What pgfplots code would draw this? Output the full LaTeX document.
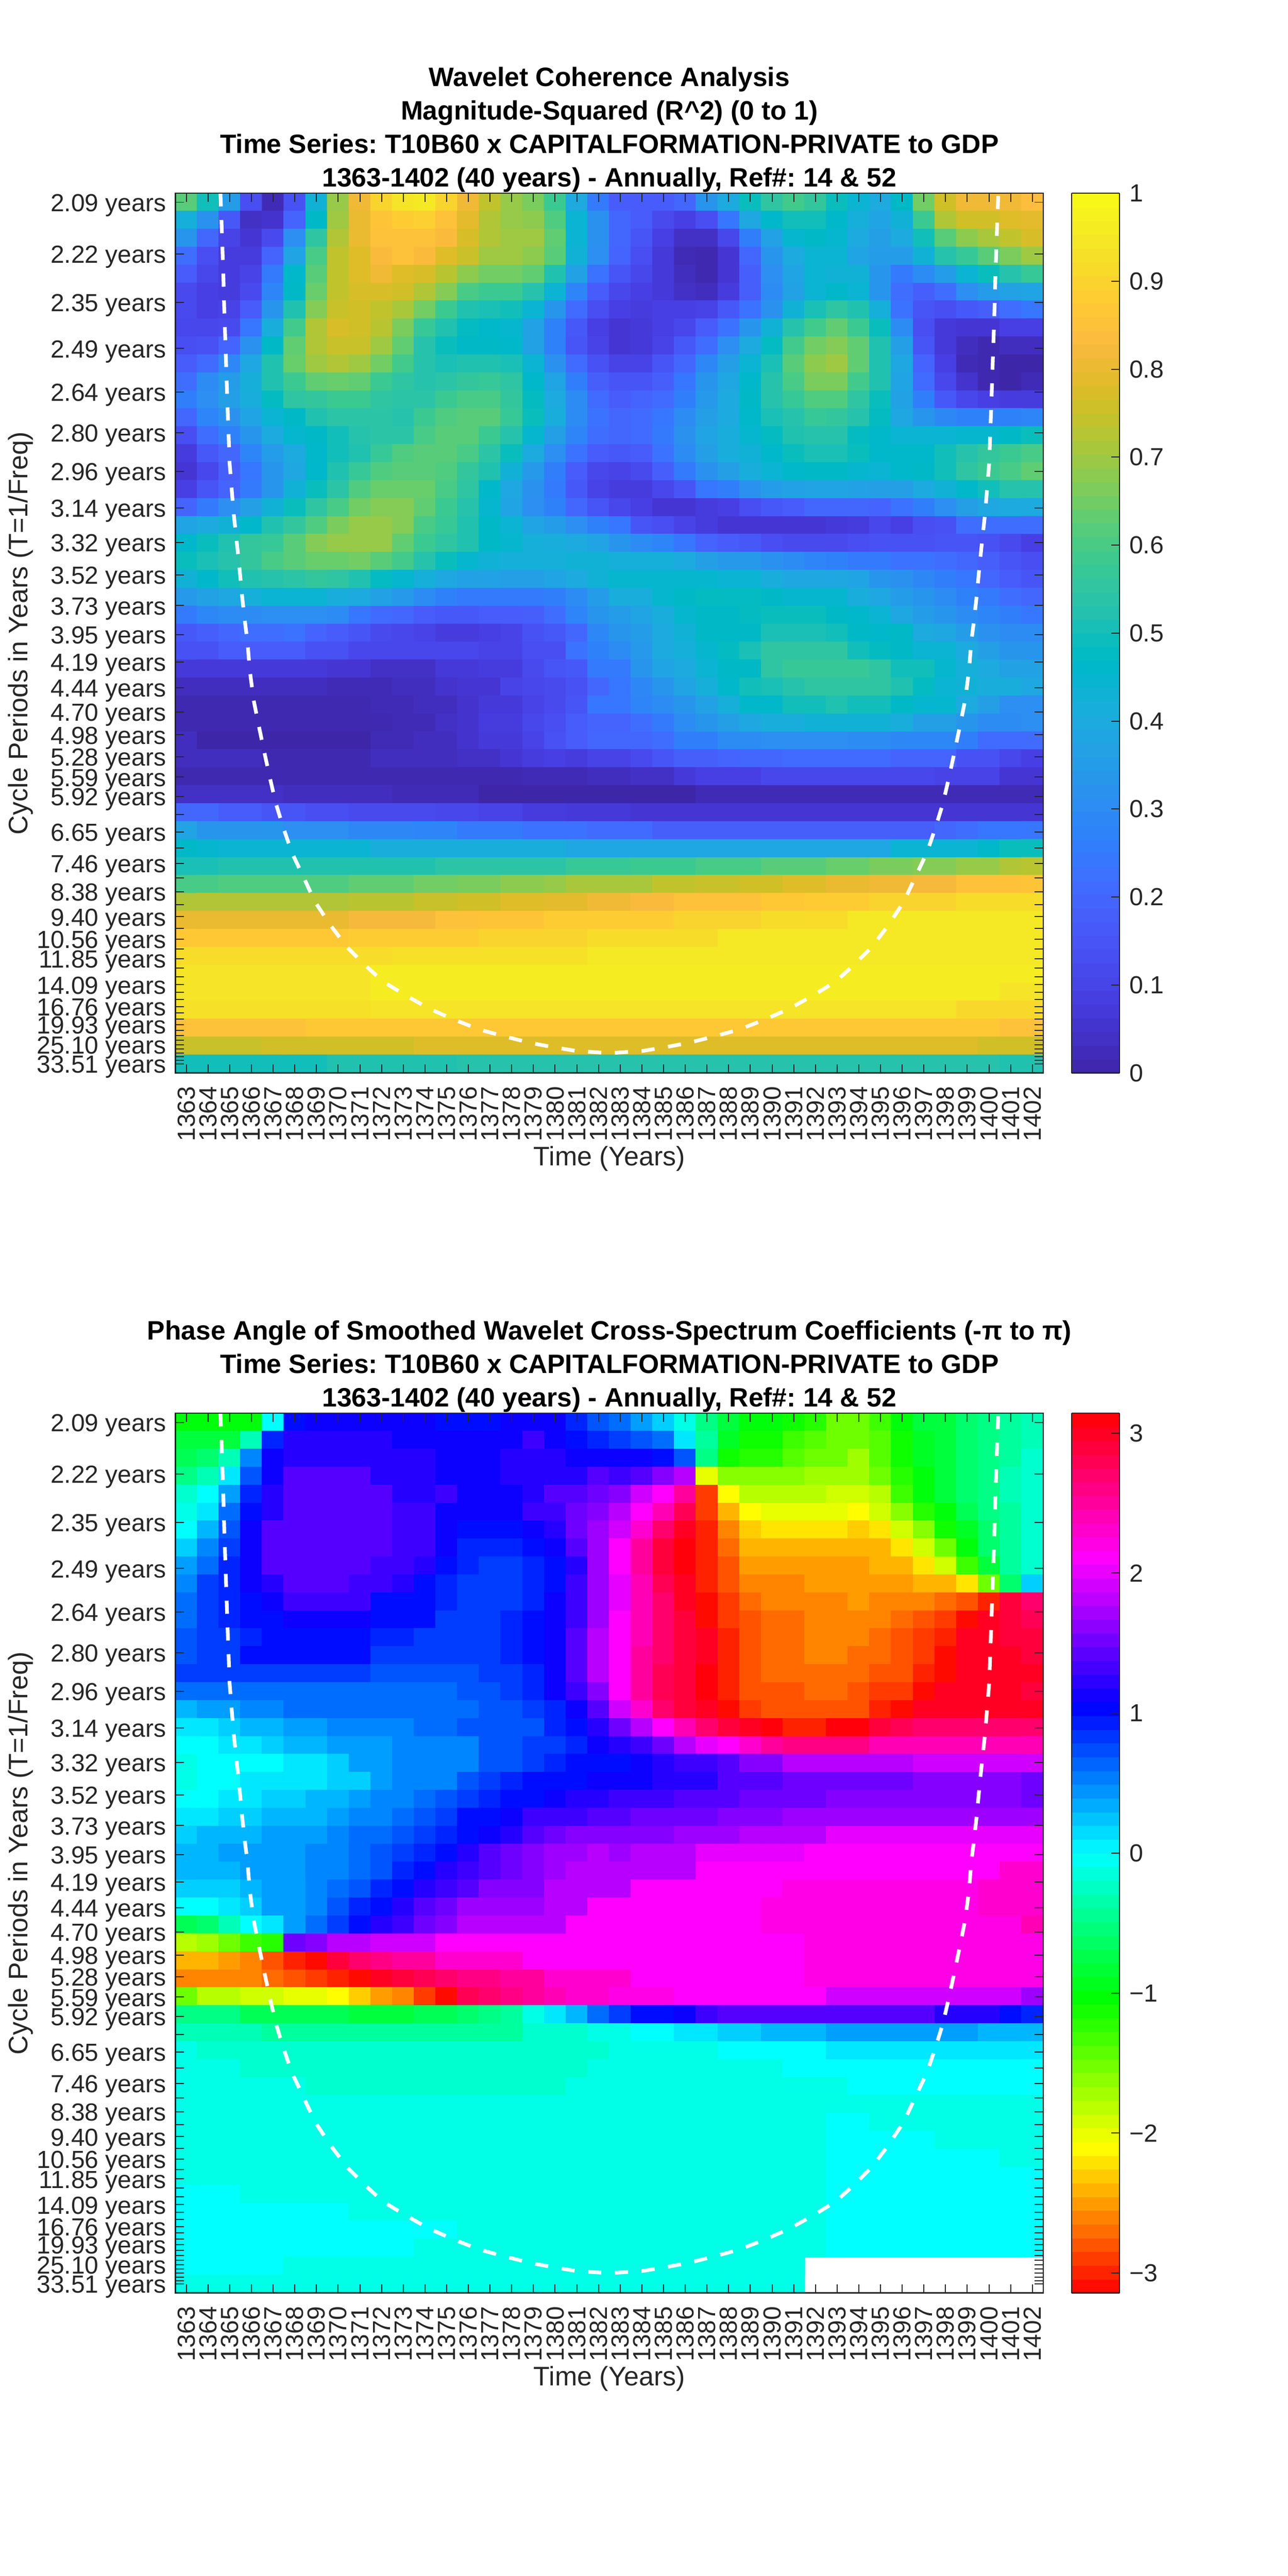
\documentclass[border=0pt]{standalone}
\usepackage{fontspec}
\setmainfont{Liberation Sans}
\usepackage{pgfplots}
\usepackage{pgfplotstable}
\pgfplotsset{compat=1.18}

\pgfplotsset{
  colormap={parula}{
    rgb=(.2422,.1504,.6603) rgb=(.2504,.1650,.7076) rgb=(.2578,.1818,.7511) rgb=(.2647,.1978,.7952)
    rgb=(.2706,.2147,.8364) rgb=(.2751,.2342,.8710) rgb=(.2783,.2559,.8991) rgb=(.2803,.2782,.9221)
    rgb=(.2813,.3006,.9414) rgb=(.2810,.3228,.9579) rgb=(.2795,.3447,.9717) rgb=(.2760,.3667,.9829)
    rgb=(.2699,.3892,.9906) rgb=(.2602,.4123,.9952) rgb=(.2440,.4358,.9988) rgb=(.2206,.4603,.9973)
    rgb=(.1963,.4847,.9892) rgb=(.1834,.5074,.9798) rgb=(.1786,.5289,.9682) rgb=(.1764,.5499,.9520)
    rgb=(.1687,.5703,.9359) rgb=(.1540,.5902,.9218) rgb=(.1460,.6091,.9079) rgb=(.1380,.6276,.8973)
    rgb=(.1248,.6459,.8883) rgb=(.1113,.6635,.8763) rgb=(.0952,.6798,.8598) rgb=(.0689,.6948,.8394)
    rgb=(.0297,.7082,.8163) rgb=(.0036,.7203,.7917) rgb=(.0067,.7312,.7660) rgb=(.0433,.7411,.7394)
    rgb=(.0964,.7500,.7120) rgb=(.1408,.7584,.6842) rgb=(.1717,.7670,.6554) rgb=(.1938,.7758,.6251)
    rgb=(.2161,.7843,.5923) rgb=(.2470,.7918,.5567) rgb=(.2906,.7973,.5188) rgb=(.3406,.8008,.4789)
    rgb=(.3909,.8029,.4354) rgb=(.4456,.8024,.3909) rgb=(.5044,.7993,.3480) rgb=(.5616,.7942,.3045)
    rgb=(.6174,.7876,.2612) rgb=(.6720,.7793,.2227) rgb=(.7242,.7698,.1910) rgb=(.7738,.7598,.1646)
    rgb=(.8203,.7498,.1535) rgb=(.8634,.7406,.1596) rgb=(.9035,.7330,.1774) rgb=(.9393,.7288,.2100)
    rgb=(.9728,.7298,.2394) rgb=(.9956,.7434,.2371) rgb=(.9970,.7659,.2199) rgb=(.9952,.7861,.1999)
    rgb=(.9892,.8136,.1885) rgb=(.9786,.8386,.1766) rgb=(.9676,.8639,.1643) rgb=(.9610,.8890,.1537)
    rgb=(.9597,.9135,.1423) rgb=(.9628,.9373,.1265) rgb=(.9691,.9606,.1064) rgb=(.9769,.9839,.0805)
  },
  colormap={hsvwrap}{
    rgb255=(255,0,0) rgb255=(255,255,0) rgb255=(0,255,0) rgb255=(0,255,255)
    rgb255=(0,0,255) rgb255=(255,0,255) rgb255=(255,0,0)
  },
  wavelet/.style={
    scale only axis, width=421.2pt, height=427pt,
    anchor=south west,
    xmin=1362.5, xmax=1402.5, ymin=0.5, ymax=49.5,
    y dir=reverse, axis on top,
    tick align=inside, xtick pos=both, ytick pos=both,
    major tick length=4.2pt,
    tick style={black!85, line width=.5pt},
    axis line style={black!85, line width=.6pt},
    xtick={1363,1364,...,1402},
    ytick={1,3.874,6.586,9.146,11.563,13.843,15.996,18.028,19.946,21.757,23.465,25.078,26.6,28.037,29.393,30.673,31.881,33.022,34.098,35.114,36.073,36.978,37.833,38.639,39.4,40.118,40.797,41.437,42.041,42.611,43.149,43.657,44.137,44.589,45.016,45.42,45.8,46.159,46.498,46.82,47.121,47.406,47.675,47.928,48.168,48.394,48.608,48.81,49},
    yticklabels={2.09 years,2.22 years,2.35 years,2.49 years,2.64 years,2.80 years,2.96 years,3.14 years,3.32 years,3.52 years,3.73 years,3.95 years,4.19 years,4.44 years,4.70 years,4.98 years,5.28 years,5.59 years,5.92 years,,6.65 years,,7.46 years,,8.38 years,,9.40 years,,10.56 years,,11.85 years,,,14.09 years,,,16.76 years,,,19.93 years,,,,25.10 years,,,,,33.51 years},
    /pgf/number format/assume math mode=true,
    /pgf/number format/1000 sep={},
    tick label style={font=\fontsize{12}{14}\selectfont, color=black!85},
    yticklabel style={anchor=east, inner sep=0pt, xshift=-4.4pt, yshift=-1.5pt},
    xticklabel style={rotate=90, anchor=east, inner sep=0pt, xshift=-6.4pt},
    xlabel={Time (Years)},
    ylabel={Cycle Periods in Years (T=1/Freq)},
    label style={font=\fontsize{13}{15}\selectfont, color=black!85},
    xlabel style={at={(axis description cs:0.5,0)}, anchor=north, yshift=-32pt},
    ylabel style={at={(axis description cs:-0.1557,0.5)}, anchor=south},
    title style={at={(axis description cs:0.5,1)}, anchor=south, yshift=-9pt, align=center,
      font=\fontsize{12.9}{16.2}\selectfont\bfseries\frenchspacing},
    colorbar sampled,
  },
  wavebar/.style={
    at={(1.03276,1)}, anchor=north west, width=23.2pt, height=427pt,
    xmin=0, xmax=1, samples=65,
    ytick pos=right, yticklabel pos=right,
    tick align=inside, major tick length=4pt,
    tick style={black!85, line width=.5pt},
    axis line style={black!85, line width=.6pt},
    /pgf/number format/assume math mode=true,
    yticklabel style={font=\fontsize{12}{14}\selectfont, color=black!85, anchor=west, inner sep=0pt, xshift=4.6pt},
  },
  coi/.style={white, line width=1.8pt, dash pattern=on 6.4pt off 6.6pt},
}

% Magnitude-squared coherence x100, row by row from the top, 40 years per row
\pgfplotstableread{
c
62
50
35
13
2
14
43
69
81
90
94
95
90
81
74
69
66
58
40
25
17
17
17
20
33
40
49
55
59
56
49
44
40
47
65
76
81
81
81
84
42
32
16
4
5
19
47
70
80
86
88
89
85
79
72
69
68
61
44
32
20
17
12
9
13
24
39
46
50
50
46
42
38
43
58
72
76
76
78
79
33
20
10
6
12
31
55
72
80
85
85
85
83
77
72
70
70
63
44
32
20
15
9
4
4
11
26
37
45
47
45
40
36
40
50
62
68
71
74
77
22
13
8
8
19
38
60
74
78
83
85
83
78
75
70
70
68
62
43
31
19
13
7
2
1
6
20
33
40
44
44
38
35
35
43
53
57
62
66
70
17
11
8
10
25
46
62
74
78
81
78
77
73
68
65
65
63
52
37
23
15
11
7
3
1
6
18
31
38
44
43
43
33
25
30
35
44
49
53
57
12
9
8
12
28
47
64
74
77
77
76
72
67
60
58
58
53
44
28
17
11
9
7
4
3
8
18
30
37
44
46
44
33
22
18
22
31
35
37
38
12
9
10
17
33
52
67
75
76
74
71
65
58
52
51
50
44
33
21
13
9
8
9
9
10
16
23
32
43
51
55
52
42
23
15
13
16
18
22
24
11
11
12
24
41
59
72
77
76
73
66
57
52
48
46
45
37
27
16
9
6
7
9
11
17
23
33
43
53
59
63
58
49
30
13
7
6
6
9
9
13
14
19
32
47
63
72
75
75
70
63
53
49
47
47
46
37
27
15
10
6
7
10
16
22
31
40
48
59
65
67
63
52
36
15
7
3
1
3
3
17
21
29
39
52
64
70
72
70
65
59
53
51
52
52
51
44
32
21
14
10
10
15
20
29
36
44
51
62
68
70
63
52
39
19
9
2
1
0
0
22
30
35
42
52
58
63
64
63
58
55
53
54
56
57
55
46
38
26
18
15
15
18
24
33
39
46
53
60
66
66
59
52
38
21
11
5
1
0
2
26
31
36
41
48
55
56
58
58
55
54
54
58
60
60
56
48
40
30
21
17
19
21
26
34
40
47
53
57
61
61
55
49
37
26
16
11
9
8
8
20
28
32
38
44
47
52
54
54
54
53
58
61
62
62
57
49
41
30
23
20
21
24
30
36
40
46
51
53
57
56
53
48
39
33
29
27
27
27
28
13
22
27
33
40
45
47
50
53
54
54
60
62
62
58
53
45
36
28
22
20
21
25
32
38
41
45
48
52
53
53
48
46
44
44
44
45
45
47
49
8
16
20
28
35
40
46
50
52
57
61
62
62
60
54
49
40
31
23
17
16
17
23
30
36
41
43
46
49
51
51
49
46
46
46
50
53
56
58
60
6
11
18
24
33
39
46
52
57
61
62
62
61
56
52
43
34
26
17
11
10
12
18
25
32
36
41
44
46
47
47
45
44
46
47
50
55
58
60
63
9
15
19
25
33
43
49
54
61
64
64
64
60
55
46
39
32
25
16
10
8
8
11
15
24
26
32
35
37
38
38
37
36
36
40
43
46
50
53
53
19
25
31
36
43
49
55
60
65
67
67
63
58
53
45
38
31
27
20
15
11
9
6
6
8
9
13
16
17
20
20
20
19
23
26
31
36
39
40
40
38
40
43
46
52
56
61
66
69
69
67
60
57
52
47
44
38
35
31
27
24
15
13
10
8
6
6
6
6
6
7
8
11
9
13
14
22
22
22
22
46
49
52
56
57
62
67
69
69
69
63
58
55
52
47
45
42
41
40
38
33
30
28
24
19
17
16
13
12
12
12
13
14
14
14
15
15
14
12
9
49
51
53
56
60
62
64
64
65
62
59
53
49
45
43
42
42
42
43
43
42
42
42
40
36
34
34
32
30
28
27
25
25
23
23
22
20
18
15
13
43
46
50
52
53
54
56
55
52
48
45
42
39
37
37
36
36
38
40
43
45
45
45
45
45
44
44
41
39
39
39
38
33
32
29
26
24
20
17
15
34
37
39
42
44
44
44
41
40
37
34
30
27
25
25
25
25
26
30
35
41
41
45
47
48
48
48
47
45
45
45
41
39
35
33
30
27
25
22
20
25
29
30
30
31
31
31
30
24
21
20
17
16
16
17
17
18
22
28
33
35
38
41
45
47
47
48
49
49
49
47
46
44
39
35
33
30
28
26
24
16
18
20
22
22
23
19
17
15
12
11
10
8
8
9
10
14
16
20
29
33
35
40
43
47
47
47
51
51
51
50
47
46
47
40
39
35
32
30
30
14
14
17
17
17
17
14
14
11
11
11
11
11
11
10
10
13
13
23
27
30
34
40
42
45
48
51
55
55
55
55
50
48
47
44
44
40
36
33
33
7
7
7
7
7
7
7
6
6
4
4
4
7
7
8
8
12
15
16
25
25
33
38
40
44
47
47
55
57
57
57
57
55
50
50
45
42
40
37
37
3
3
3
3
3
3
3
2
2
2
3
3
5
6
6
10
11
12
14
20
24
29
33
38
42
46
50
51
53
55
55
55
55
52
48
44
43
41
41
39
1
1
1
1
1
1
1
1
1
2
2
3
3
5
7
7
10
12
15
24
24
28
30
33
37
42
46
46
50
50
52
50
50
47
45
45
40
36
31
31
1
1
1
1
1
1
1
1
1
1
2
2
4
5
8
8
11
13
17
19
19
22
25
30
33
36
39
41
41
43
43
43
43
41
36
36
33
30
30
31
3
0
0
0
0
0
0
0
0
2
2
3
3
5
7
7
10
14
17
20
20
20
22
26
26
30
30
31
31
31
31
30
30
29
29
29
26
21
21
21
3
3
3
3
1
1
1
1
1
3
3
3
3
4
4
6
8
9
8
10
10
12
15
18
18
19
20
20
21
21
21
21
21
19
19
19
14
14
11
9
1
1
1
1
1
1
1
1
1
1
1
1
1
1
1
1
2
2
2
3
3
4
4
7
9
9
9
11
11
11
11
11
11
11
11
10
10
10
6
6
4
4
4
4
4
3
3
3
3
3
2
2
2
2
0
0
0
0
0
0
0
0
0
0
2
2
2
2
2
2
2
2
2
2
2
2
2
2
2
2
20
20
17
17
15
15
13
13
12
12
12
12
11
11
10
10
8
8
7
7
7
6
6
6
6
6
6
6
6
6
6
6
6
6
6
6
6
6
6
6
38
33
33
33
33
31
31
31
29
29
29
28
28
25
25
25
23
23
23
21
21
21
18
18
18
18
18
18
18
18
18
18
18
18
18
20
22
24
24
24
47
45
44
44
44
44
44
44
44
41
41
41
41
41
41
41
41
41
39
39
39
39
39
39
39
39
39
39
39
39
39
39
39
44
44
44
44
46
49
49
51
51
52
52
52
52
52
52
52
52
52
52
54
54
54
54
54
54
57
57
57
58
58
58
60
60
60
62
62
62
64
64
66
66
67
67
69
69
72
73
60
60
61
61
61
61
61
61
63
63
63
65
65
66
66
68
68
69
71
71
71
71
74
74
75
75
76
76
78
78
80
80
81
81
82
82
85
85
85
86
72
72
72
72
72
72
72
72
73
73
73
75
75
76
76
78
78
79
79
81
81
83
83
85
85
85
85
87
87
88
88
88
90
90
90
90
92
92
92
92
80
80
80
80
80
80
80
80
82
82
82
82
85
85
86
86
86
88
88
88
88
88
88
90
90
90
90
92
92
92
92
95
95
95
95
95
95
95
95
95
87
87
87
87
87
87
87
87
88
88
88
88
88
88
90
90
90
90
90
92
92
92
92
92
92
95
95
95
95
95
95
95
95
95
95
95
95
95
95
95
92
92
92
92
92
92
92
92
92
92
93
93
93
93
93
93
93
93
93
95
95
95
95
95
95
95
95
95
95
95
95
95
95
95
95
95
95
95
95
95
94
94
94
94
94
94
94
94
94
96
96
96
96
96
96
96
96
96
96
96
96
96
96
96
96
96
96
96
96
96
96
96
96
96
96
96
96
96
96
96
94
94
94
94
94
94
94
94
94
96
96
96
96
96
96
96
96
96
96
96
96
96
96
96
96
96
96
96
96
96
96
96
96
96
96
96
96
96
94
94
93
93
93
93
93
93
93
93
93
94
94
94
94
94
94
94
94
94
94
94
94
94
94
94
94
94
94
94
94
94
94
94
94
94
94
94
91
91
91
91
85
85
85
85
85
85
87
87
87
87
87
87
87
87
87
87
87
87
87
87
87
87
87
87
87
87
87
87
87
87
87
87
87
87
87
87
87
87
85
85
75
75
75
75
76
76
76
76
76
76
76
78
78
78
78
78
78
78
78
78
78
78
78
78
78
78
78
78
78
78
78
78
78
78
78
78
78
76
76
76
50
50
50
50
50
50
50
52
52
52
52
52
52
53
53
53
53
53
53
53
53
53
53
53
53
53
53
53
53
53
53
53
53
53
53
53
53
53
52
52
}\coherence

% Phase angle in tenths of a radian, same order
\pgfplotstableread{
c
-10
-10
-10
-10
0
10
11
11
11
11
11
11
10
10
10
11
11
11
9
7
6
4
2
-1
-5
-8
-10
-10
-11
-12
-15
-15
-13
-10
-8
-8
-6
-5
-4
-3
-8
-8
-8
-3
9
12
12
12
12
12
11
11
11
11
11
11
13
11
10
9
8
7
6
1
-4
-9
-11
-11
-13
-14
-15
-15
-14
-11
-9
-8
-6
-5
-4
-3
-7
-6
-3
5
11
12
12
12
12
12
12
12
11
11
11
12
12
12
11
11
11
11
10
7
-5
-11
-12
-12
-14
-15
-15
-17
-14
-11
-9
-8
-6
-5
-4
-2
-5
-3
1
7
11
14
14
14
14
12
12
12
11
11
11
12
12
12
12
14
13
14
16
18
-20
-16
-16
-16
-16
-17
-17
-17
-15
-12
-10
-8
-6
-5
-3
-2
-2
0
4
9
12
14
14
14
14
14
12
12
13
11
11
11
12
14
14
15
16
19
21
25
-29
-21
-18
-18
-18
-18
-19
-19
-18
-13
-10
-8
-6
-5
-3
-2
-1
1
6
10
12
14
14
14
14
14
13
13
11
11
11
11
13
13
15
16
18
21
24
28
-29
-24
-21
-20
-20
-20
-20
-21
-19
-16
-12
-10
-7
-5
-4
-2
0
3
7
11
14
14
14
14
14
14
13
13
11
10
10
10
11
12
15
17
19
23
27
30
-30
-26
-23
-22
-22
-22
-22
-23
-22
-19
-16
-11
-9
-6
-4
-2
2
5
8
11
14
14
14
14
14
14
13
13
11
9
9
9
10
11
14
17
21
25
29
31
-30
-27
-24
-24
-24
-24
-24
-24
-24
-22
-19
-15
-10
-6
-4
-2
4
6
9
11
14
14
14
14
14
13
13
12
10
9
8
8
9
10
12
17
21
25
29
31
-30
-28
-25
-25
-25
-25
-25
-25
-24
-24
-22
-19
-13
-8
-4
-2
5
8
9
11
12
14
14
14
13
13
12
10
9
8
8
8
9
10
13
17
20
24
28
30
-30
-28
-26
-26
-26
-25
-25
-25
-25
-25
-24
-24
-22
-15
-6
2
6
8
9
10
11
13
13
13
13
10
10
10
9
8
8
8
9
11
13
17
20
24
27
30
-31
-29
-27
-26
-26
-26
-26
-25
-26
-26
-26
-27
-28
-30
29
27
6
8
9
10
10
11
11
11
11
10
10
10
8
8
8
9
10
11
13
17
21
24
27
29
-31
-29
-28
-27
-27
-26
-26
-26
-26
-27
-28
-29
-31
30
29
28
7
8
8
9
10
10
10
10
10
9
9
8
8
8
8
9
10
11
14
18
21
24
27
29
30
-30
-28
-27
-27
-26
-26
-26
-27
-28
-29
-30
30
30
29
29
7
8
8
10
10
10
10
10
10
8
8
8
8
8
8
9
10
11
14
18
21
25
27
29
30
-30
-28
-27
-27
-26
-26
-27
-27
-28
-29
-31
30
30
30
29
8
8
8
8
8
8
8
8
8
7
7
7
7
7
8
8
9
11
14
18
21
25
28
29
31
-30
-28
-27
-27
-27
-27
-27
-28
-28
-30
-31
30
30
30
30
6
6
6
6
6
6
6
6
6
6
6
6
6
7
7
8
9
11
13
16
21
25
28
29
31
-30
-28
-28
-28
-27
-27
-28
-29
-29
-31
30
30
30
30
29
3
4
4
5
5
6
6
6
6
6
6
6
6
6
7
7
8
9
11
14
19
23
27
29
30
-31
-29
-28
-28
-28
-28
-28
-30
-31
30
30
30
30
30
30
1
1
2
3
3
4
4
5
5
5
5
6
6
7
7
7
7
9
10
12
15
18
21
24
27
29
30
31
-30
-30
31
31
29
28
27
27
27
27
27
27
0
0
1
1
2
3
3
4
4
4
5
5
5
5
7
7
8
8
9
11
12
13
15
18
20
21
23
25
26
26
26
26
24
24
24
24
24
24
24
24
-1
0
0
0
0
1
1
2
4
4
5
5
5
5
7
7
8
9
10
10
10
11
12
13
13
14
16
16
18
18
18
18
18
18
19
19
19
19
19
19
-1
0
0
1
1
1
1
2
2
4
5
5
5
7
8
9
10
10
10
11
11
11
12
12
12
14
14
14
15
15
15
15
15
15
16
16
16
16
16
15
0
0
1
1
2
2
3
3
4
5
5
6
7
8
9
10
10
11
12
12
13
13
13
14
14
14
15
15
15
15
16
16
16
16
16
16
16
16
16
15
1
1
2
2
3
3
3
4
5
5
6
7
8
10
10
11
13
13
13
14
14
15
15
15
15
16
16
16
17
17
17
17
17
17
17
17
17
17
17
17
2
3
3
3
4
4
4
5
6
6
7
8
9
10
11
12
14
15
16
16
16
16
16
17
17
17
18
18
18
18
20
20
20
20
20
20
20
20
20
20
3
3
4
4
4
4
5
5
6
7
8
9
10
12
14
15
16
17
17
18
17
18
18
18
20
20
20
20
20
21
21
21
21
21
21
21
21
21
21
21
3
3
3
4
4
4
5
5
6
7
9
10
12
13
14
15
16
17
18
18
18
18
18
18
21
21
21
21
21
21
21
21
21
21
21
21
21
21
23
23
2
2
2
3
4
4
5
6
7
9
10
12
13
14
16
16
16
18
18
18
18
21
21
21
21
21
21
21
22
22
22
22
22
22
22
22
22
23
23
23
0
0
1
2
4
4
5
7
9
10
12
14
15
17
17
17
17
18
18
21
21
21
21
21
21
21
21
22
22
22
22
22
22
22
22
22
22
23
23
23
-7
-6
-3
0
1
4
6
8
10
12
13
15
16
18
18
18
18
18
21
21
21
21
21
21
21
21
21
22
22
22
22
22
22
22
22
22
22
22
22
24
-18
-17
-15
-13
-12
15
16
18
18
19
19
19
21
21
21
21
21
21
21
21
21
21
21
21
21
21
21
21
21
22
22
22
22
22
22
22
22
22
22
22
-24
-24
-25
-26
-28
-30
-31
29
27
26
25
25
23
23
23
23
21
21
21
21
21
21
21
21
21
21
21
21
21
22
22
22
22
22
22
22
22
22
22
22
-26
-26
-26
-26
-27
-28
-29
-30
-31
30
29
28
27
26
26
25
25
23
23
23
23
21
21
21
21
21
21
21
21
22
22
22
22
22
22
22
22
22
22
22
-15
-18
-18
-19
-19
-20
-20
-21
-23
-25
-26
-29
-31
28
27
26
25
24
23
23
22
22
22
21
21
21
21
21
21
21
19
19
19
19
19
19
19
19
19
17
-5
-5
-5
-7
-7
-7
-7
-7
-8
-8
-8
-7
-7
-6
-5
-4
-1
1
3
6
8
10
10
11
13
14
14
14
14
14
14
14
14
14
14
12
12
12
10
9
-3
-3
-3
-3
-4
-4
-4
-4
-4
-4
-4
-4
-4
-4
-4
-4
-2
-2
-2
-1
-1
0
0
1
1
2
2
3
3
3
4
4
4
4
4
4
4
3
3
3
-1
-2
-2
-2
-2
-2
-2
-2
-2
-2
-2
-2
-2
-2
-2
-2
-2
-2
-2
-2
-1
-1
-1
-1
-1
0
0
0
0
0
1
1
1
1
1
1
1
1
1
1
-1
-1
-1
-2
-2
-2
-2
-2
-2
-2
-2
-2
-2
-2
-2
-2
-2
-2
-2
-1
-1
-1
-1
-1
-1
-1
-1
-1
0
0
0
0
0
0
0
0
0
0
0
0
-1
-1
-1
-1
-1
-1
-2
-2
-2
-2
-2
-2
-2
-2
-2
-2
-2
-2
-1
-1
-1
-1
-1
-1
-1
-1
-1
-1
-1
-1
-1
0
0
0
0
0
0
0
0
0
-1
-1
-1
-1
-1
-1
-1
-1
-1
-1
-1
-1
-1
-1
-1
-1
-1
-1
-1
-1
-1
-1
-1
-1
-1
-1
-1
-1
-1
-1
-1
-1
-1
-1
-1
-1
-1
-1
-1
-1
-1
-1
-1
-1
-1
-1
-1
-1
-1
-1
-1
-1
-1
-1
-1
-1
-1
-1
-1
-1
-1
-1
-1
-1
-1
-1
-1
-1
-1
-1
0
0
-1
-1
-1
-1
-1
-1
-1
-1
-1
-1
-1
-1
-1
-1
-1
-1
-1
-1
-1
-1
-1
-1
-1
-1
-1
-1
-1
-1
-1
-1
-1
-1
-1
-1
-1
-1
-1
-1
0
0
0
0
0
-1
-1
-1
-1
-1
-1
-1
-1
-1
-1
-1
-1
-1
-1
-1
-1
-1
-1
-1
-1
-1
-1
-1
-1
-1
-1
-1
-1
-1
-1
-1
-1
-1
-1
-1
0
0
0
0
0
0
0
0
-1
-1
-1
-1
-1
-1
-1
-1
-1
-1
-1
-1
-1
-1
-1
-1
-1
-1
-1
-1
-1
-1
-1
-1
-1
-1
-1
-1
-1
-1
-1
-1
0
0
0
0
0
0
0
0
0
0
0
0
0
-1
-1
-1
-1
-1
-1
-1
-1
-1
-1
-1
-1
-1
-1
-1
-1
-1
-1
-1
-1
-1
-1
-1
-1
-1
-1
-1
0
0
0
0
0
0
0
0
0
0
0
0
0
0
0
0
0
0
-1
-1
-1
-1
-1
-1
-1
-1
-1
-1
-1
-1
-1
-1
-1
-1
-1
-1
-1
-1
-1
-1
0
0
0
0
0
0
0
0
0
0
0
0
0
0
0
0
0
0
0
0
0
0
0
-1
-1
-1
-1
-1
-1
-1
-1
-1
-1
-1
-1
-1
-1
-1
-1
-1
0
0
0
0
0
0
0
0
0
0
0
0
0
0
0
0
0
0
0
0
0
-1
-1
-1
-1
-1
-1
-1
-1
-1
-1
-1
-1
-1
-1
-1
-1
-1
-1
-1
0
0
0
0
0
0
0
0
0
0
0
0
0
0
0
-1
-1
-1
-1
-1
-1
-1
-1
-1
-1
-1
-1
-1
-1
-1
-1
-1
-1
-1
-1
-1
-1
-1
-1
-1
0
0
0
0
0
0
0
0
0
0
-1
-1
-1
-1
-1
-1
-1
-1
-1
-1
-1
-1
-1
-1
-1
-1
-1
-1
-1
-1
-1
-1
-1
-1
-1
-1
-1
-1
-1
-1
}\phase

% cone of influence, same for both panels
\pgfplotstableread{
x y
1364.57 0.5
1364.62 2.1
1364.67 3.85
1364.71 5.29
1364.74 6.72
1364.78 8.16
1364.82 9.59
1364.86 11.03
1364.90 12.47
1364.95 14.06
1364.99 15.5
1365.09 17.01
1365.19 18.45
1365.32 19.88
1365.45 21.4
1365.56 22.84
1365.69 24.27
1365.82 25.52
1365.92 27.05
1366.10 28.73
1366.33 30.11
1366.58 31.56
1366.84 33.01
1367.12 34.47
1367.45 35.77
1367.86 37.22
1368.37 38.52
1368.93 39.97
1369.64 41.27
1370.41 42.5
1371.30 43.57
1372.07 44.41
1373.09 45.17
1374.23 45.94
1375.38 46.55
1376.53 47.09
1377.68 47.47
1378.83 47.82
1379.97 48.08
1381.0 48.28
1382.5 48.4
1384.0 48.28
1385.03 48.08
1386.17 47.82
1387.32 47.47
1388.47 47.09
1389.62 46.55
1390.77 45.94
1391.91 45.17
1392.93 44.41
1393.70 43.57
1394.59 42.5
1395.36 41.27
1396.07 39.97
1396.63 38.52
1397.14 37.22
1397.55 35.77
1397.88 34.47
1398.16 33.01
1398.42 31.56
1398.67 30.11
1398.90 28.73
1399.08 27.05
1399.18 25.52
1399.31 24.27
1399.44 22.84
1399.55 21.4
1399.68 19.88
1399.81 18.45
1399.91 17.01
1400.01 15.5
1400.05 14.06
1400.10 12.47
1400.14 11.03
1400.18 9.59
1400.22 8.16
1400.26 6.72
1400.29 5.29
1400.33 3.85
1400.38 2.1
1400.43 0.5
}\coi

\begin{document}
\begin{tikzpicture}
\path[use as bounding box] (0,0) rectangle (625pt,1250.4pt);

\begin{axis}[wavelet, at={(85.2pt,729.6pt)},
  colormap name=parula, point meta min=0, point meta max=1,
  title={Wavelet Coherence Analysis\\Magnitude-Squared (R\textasciicircum 2) (0 to 1)\\Time Series: T10B60 x CAPITALFORMATION-PRIVATE to GDP\\1363-1402 (40 years) - Annually, Ref\#: 14 \& 52},
  colorbar style={wavebar, ytick={0,0.1,...,1}},
]
\addplot[matrix plot*, mesh/cols=40, mesh/rows=49, mesh/check=false, point meta=explicit] table[x index=0, y index=0, x expr={1363+\coordindex-40*floor((\coordindex+0.5)/40)}, y expr={1+floor((\coordindex+0.5)/40)}, meta expr={\thisrow{c}/100}] {\coherence};
\addplot[coi] table[x=x, y=y] {\coi};
\end{axis}

\begin{axis}[wavelet, at={(85.2pt,137.4pt)},
  colormap name=hsvwrap, point meta min=-3.1416, point meta max=3.1416,
  title={Phase Angle of Smoothed Wavelet Cross-Spectrum Coefficients (-π to π)\\Time Series: T10B60 x CAPITALFORMATION-PRIVATE to GDP\\1363-1402 (40 years) - Annually, Ref\#: 14 \& 52},
  colorbar style={wavebar, ytick={-3,-2,-1,0,1,2,3}, yticklabels={−3,−2,−1,0,1,2,3}},
]
\addplot[matrix plot*, mesh/cols=40, mesh/rows=49, mesh/check=false, point meta=explicit] table[x index=0, y index=0, x expr={1363+\coordindex-40*floor((\coordindex+0.5)/40)}, y expr={1+floor((\coordindex+0.5)/40)}, meta expr={\thisrow{c}/10}] {\phase};
\addplot[coi] table[x=x, y=y] {\coi};
\end{axis}
\end{tikzpicture}
\end{document}
